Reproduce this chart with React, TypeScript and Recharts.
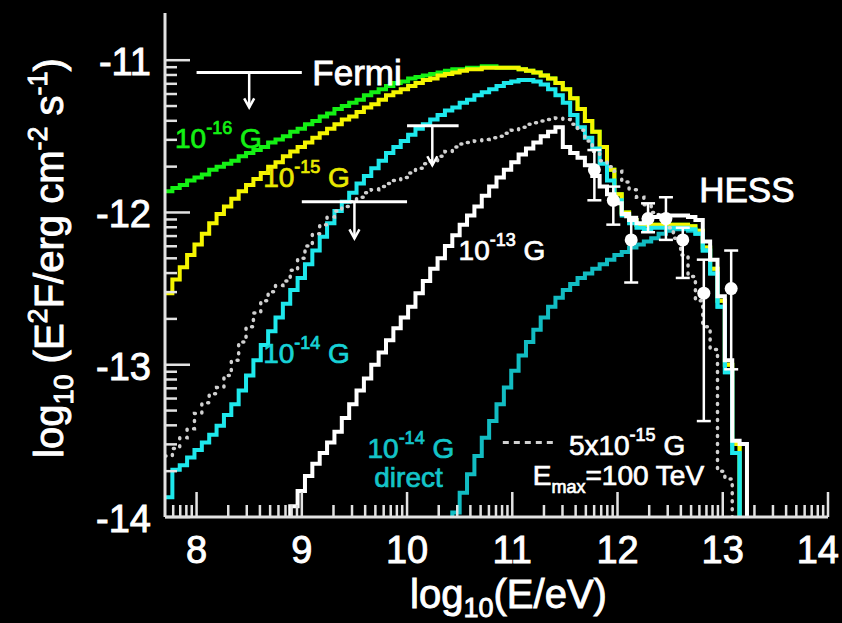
import React from 'react';
import { ComposedChart, Line, Scatter, XAxis, YAxis, ErrorBar, ReferenceLine } from 'recharts';

const FONT = '"Liberation Sans", Arial, Helvetica, sans-serif';
const FRAME = '#e2e2e2';
const C_GREEN = '#14f014';
const C_YELLOW = '#f5f500';
const C_CYAN = '#1ee8ec';
const C_DIRECT = '#12bcc2';
const C_WHITE = '#ffffff';
const C_DOT = '#d0d0d0';
const TEXT_STROKE = 0.9;

// log10(E/eV) bin edges of the histograms
const binEdges = [
  7.70, 7.77, 7.84, 7.91, 7.98, 8.05, 8.12, 8.19, 8.26, 8.33,
  8.40, 8.47, 8.54, 8.61, 8.68, 8.75, 8.82, 8.89, 8.96, 9.03,
  9.10, 9.17, 9.24, 9.31, 9.38, 9.45, 9.52, 9.59, 9.66, 9.73,
  9.80, 9.87, 9.94, 10.01, 10.08, 10.15, 10.22, 10.29, 10.36, 10.43,
  10.50, 10.57, 10.64, 10.71, 10.78, 10.85, 10.92, 10.99, 11.06, 11.13,
  11.20, 11.27, 11.34, 11.41, 11.48, 11.55, 11.62, 11.69, 11.76, 11.83,
  11.90, 11.97, 12.04, 12.11, 12.18, 12.25, 12.32, 12.39, 12.46, 12.53,
  12.60, 12.67, 12.74, 12.81, 12.88, 12.95, 13.02, 13.09, 13.16, 13.23,
  13.30,
];

// B = 1e-16 G
const field1e16: (number | null)[] = [
  -11.86, -11.84, -11.82, -11.79, -11.77, -11.75, -11.72, -11.70, -11.68, -11.66,
  -11.63, -11.61, -11.59, -11.57, -11.54, -11.52, -11.50, -11.47, -11.45, -11.42,
  -11.40, -11.37, -11.35, -11.32, -11.30, -11.28, -11.26, -11.23, -11.21, -11.19,
  -11.17, -11.15, -11.14, -11.12, -11.11, -11.10, -11.09, -11.08, -11.07, -11.06,
  -11.06, -11.05, -11.05, -11.04, -11.04, -11.05, -11.05, -11.05, -11.06, -11.07,
  -11.08, -11.10, -11.12, -11.15, -11.19, -11.25, -11.32, -11.40, -11.47, -11.57,
  -11.72, -11.88, -12.00, -12.05, -12.08, -12.08, -12.08, -12.08, -12.08, -12.08,
  -12.08, -12.09, -12.12, -12.23, -12.37, -12.58, -13.00, -13.52, -14.5, null,
  null,
];

// B = 1e-15 G
const field1e15: (number | null)[] = [
  -12.53, -12.44, -12.36, -12.28, -12.21, -12.14, -12.07, -12.01, -11.96, -11.91,
  -11.86, -11.82, -11.78, -11.74, -11.70, -11.67, -11.63, -11.60, -11.57, -11.54,
  -11.51, -11.48, -11.45, -11.42, -11.39, -11.37, -11.34, -11.31, -11.29, -11.26,
  -11.23, -11.21, -11.19, -11.17, -11.15, -11.13, -11.12, -11.10, -11.09, -11.08,
  -11.07, -11.06, -11.06, -11.05, -11.05, -11.05, -11.05, -11.05, -11.06, -11.07,
  -11.08, -11.10, -11.12, -11.15, -11.19, -11.25, -11.32, -11.40, -11.47, -11.57,
  -11.72, -11.88, -12.00, -12.05, -12.08, -12.08, -12.08, -12.08, -12.08, -12.08,
  -12.08, -12.09, -12.12, -12.23, -12.37, -12.58, -13.00, -13.52, -14.5, null,
  null,
];

// B = 1e-14 G (cascade)
const field1e14: (number | null)[] = [
  -13.87, -13.69, -13.66, -13.61, -13.56, -13.51, -13.46, -13.40, -13.33, -13.26,
  -13.17, -13.07, -12.97, -12.87, -12.78, -12.69, -12.60, -12.51, -12.43, -12.34,
  -12.25, -12.16, -12.07, -11.99, -11.93, -11.87, -11.81, -11.76, -11.71, -11.66,
  -11.61, -11.57, -11.53, -11.49, -11.45, -11.42, -11.39, -11.36, -11.33, -11.31,
  -11.28, -11.26, -11.23, -11.21, -11.19, -11.17, -11.15, -11.14, -11.13, -11.13,
  -11.14, -11.16, -11.19, -11.23, -11.28, -11.36, -11.44, -11.51, -11.58, -11.68,
  -11.79, -11.92, -12.02, -12.07, -12.10, -12.11, -12.10, -12.10, -12.10, -12.10,
  -12.10, -12.11, -12.14, -12.25, -12.40, -12.62, -13.05, -13.58, -14.5, null,
  null,
];

// B = 1e-14 G, direct component
const field1e14direct: (number | null)[] = [
  null, null, null, null, null, null, null, null, null, null,
  null, null, null, null, null, null, null, null, null, null,
  null, null, null, null, null, null, null, null, null, null,
  null, null, null, null, null, null, null, null, -14.5, -13.97,
  -13.84, -13.72, -13.60, -13.48, -13.37, -13.26, -13.15, -13.04, -12.94, -12.85,
  -12.77, -12.69, -12.62, -12.56, -12.51, -12.47, -12.43, -12.40, -12.37, -12.34,
  -12.31, -12.28, -12.26, -12.23, -12.21, -12.19, -12.17, -12.14, -12.12, -12.11,
  -12.11, -12.12, -12.14, -12.25, -12.40, -12.62, -13.05, -13.58, -14.5, null,
  null,
];

// B = 1e-13 G
const field1e13: (number | null)[] = [
  null, null, null, null, null, null, null, null, null, null,
  null, null, null, null, null, null, -14.5, -13.93, -13.83, -13.73,
  -13.65, -13.58, -13.51, -13.44, -13.35, -13.26, -13.17, -13.09, -13.00, -12.92,
  -12.84, -12.76, -12.69, -12.62, -12.53, -12.45, -12.37, -12.30, -12.22, -12.15,
  -12.08, -12.02, -11.96, -11.89, -11.83, -11.77, -11.72, -11.67, -11.62, -11.58,
  -11.54, -11.50, -11.47, -11.44, -11.57, -11.61, -11.64, -11.69, -11.76, -11.83,
  -11.88, -11.94, -12.01, -12.05, -12.07, -12.05, -12.03, -12.02, -12.02, -12.02,
  -12.02, -12.03, -12.05, -12.19, -12.31, -12.55, -12.97, -13.50, -13.52, -14.5,
  null,
];

// B = 5e-15 G, Emax = 100 TeV
const field5e15: (number | null)[] = [
  -13.60, -13.55, -13.48, -13.42, -13.32, -13.25, -13.19, -13.15, -13.07, -12.97,
  -12.85, -12.75, -12.66, -12.58, -12.52, -12.48, -12.45, -12.38, -12.30, -12.22,
  -12.14, -12.08, -12.03, -11.99, -11.96, -11.93, -11.90, -11.87, -11.85, -11.83,
  -11.81, -11.79, -11.77, -11.74, -11.71, -11.68, -11.66, -11.63, -11.60, -11.57,
  -11.55, -11.54, -11.53, -11.52, -11.51, -11.50, -11.48, -11.46, -11.44, -11.42,
  -11.41, -11.40, -11.39, -11.38, -11.39, -11.42, -11.46, -11.53, -11.60, -11.66,
  -11.70, -11.73, -11.80, -11.85, -11.90, -11.95, -12.00, -12.05, -12.10, -12.17,
  -12.28, -12.42, -12.58, -12.75, -12.90, -13.70, -13.75, -14.5, null, null,
  null,
];

// HESS points
const hessLogE = [11.78, 11.96, 12.13, 12.29, 12.46, 12.62, 12.82, 13.08];
const hessFlux = [-11.72, -11.92, -12.18, -12.04, -12.04, -12.18, -12.53, -12.50];
const hessLow = [-11.92, -12.08, -12.46, -12.13, -12.18, -12.43, -13.37, -13.03];
const hessHigh = [-11.59, -11.83, -12.03, -11.94, -11.90, -12.10, -12.31, -12.25];

// Fermi upper limits
const fermiFrom = [8.0, 9.0, 10.0];
const fermiTo = [9.0, 10.0, 10.49];
const fermiFlux = [-11.08, -11.93, -11.43];
const fermiArrowAt = [8.5, 9.5, 10.24];
const fermiArrowTip = [-11.31, -12.17, -11.69];

const X_DOMAIN: [number, number] = [7.7, 14];
const Y_DOMAIN: [number, number] = [-14, -10.69];
const xMajorTicks = [8, 9, 10, 11, 12, 13, 14];
const yMajorTicks = [-14, -13, -12, -11];
const xDecades = [7, 8, 9, 10, 11, 12, 13];
const yDecades = [-14, -13, -12, -11];
const MINOR_OFFSETS = [0.301, 0.477, 0.602, 0.699, 0.778, 0.845, 0.903, 0.954];

const xTicks = [
  ...xMajorTicks,
  ...xDecades.flatMap((d) => MINOR_OFFSETS.map((o) => d + o)).filter((v) => v > X_DOMAIN[0] && v < X_DOMAIN[1]),
].sort((a, b) => a - b);
const yTicks = [
  ...yMajorTicks,
  ...yDecades.flatMap((d) => MINOR_OFFSETS.map((o) => d + o)).filter((v) => v > Y_DOMAIN[0] && v < Y_DOMAIN[1] - 0.02),
].sort((a, b) => a - b);

const isMajor = (v: number) => Math.abs(v - Math.round(v)) < 1e-6;
const MAJOR_LEN = 25;
const MINOR_LEN = 12;
const TICK_W = 2.5;

const table = binEdges.map((x, i) => ({
  x,
  b16: field1e16[i],
  b15: field1e15[i],
  b14: field1e14[i],
  b14d: field1e14direct[i],
  b13: field1e13[i],
  b5: field5e15[i],
}));

const hessTable = hessLogE.map((x, i) => ({
  x,
  y: hessFlux[i],
  err: [hessFlux[i] - hessLow[i], hessHigh[i] - hessFlux[i]],
}));

const arrowTips = fermiArrowAt.map((x, i) => ({ x, y: fermiArrowTip[i] }));

const annotations = [
  { id: 'fermi', x: 9.1, y: -11.164 },
  { id: 'b16', x: 7.795, y: -11.577 },
  { id: 'b15', x: 8.633, y: -11.833 },
  { id: 'b14', x: 8.633, y: -12.987 },
  { id: 'b13', x: 10.49, y: -12.311 },
  { id: 'b14d', x: 9.624, y: -13.61 },
  { id: 'direct', x: 10.014, y: -13.8 },
  { id: 'hess', x: 12.776, y: -11.931 },
  { id: 'b5', x: 11.538, y: -13.59 },
  { id: 'emax', x: 11.195, y: -13.787 },
];

const PowLabel = ({ x, y, exp, color, pre = '10', size = 28, sup = 18 }: any) => (
  <text
    x={x}
    y={y}
    fill={color}
    stroke={color}
    strokeWidth={TEXT_STROKE * 0.8}
    fontSize={size}
    fontFamily={FONT}
    style={{ whiteSpace: 'pre' }}
  >
    <tspan>{pre}</tspan>
    <tspan fontSize={sup} dy={-14}>{exp}</tspan>
    <tspan dy={14}>{' G'}</tspan>
  </text>
);

const renderAnnotation = (props: any) => {
  const { cx, cy, payload } = props;
  switch (payload.id) {
    case 'fermi':
      return <text x={cx} y={cy} fill="#fff" stroke="#fff" strokeWidth={TEXT_STROKE} fontSize={35} fontFamily={FONT}>Fermi</text>;
    case 'hess':
      return <text x={cx} y={cy} fill="#fff" stroke="#fff" strokeWidth={TEXT_STROKE} fontSize={35} fontFamily={FONT}>HESS</text>;
    case 'b16':
      return <PowLabel x={cx} y={cy} exp="-16" color={C_GREEN} />;
    case 'b15':
      return <PowLabel x={cx} y={cy} exp="-15" color="#e8e800" />;
    case 'b14':
      return <PowLabel x={cx} y={cy} exp="-14" color="#18d2d6" />;
    case 'b13':
      return <PowLabel x={cx} y={cy} exp="-13" color="#fff" />;
    case 'b14d':
      return <PowLabel x={cx} y={cy} exp="-14" color="#14c4c8" />;
    case 'direct':
      return (
        <text x={cx} y={cy} fill="#14c4c8" stroke="#14c4c8" strokeWidth={TEXT_STROKE * 0.8} fontSize={28} fontFamily={FONT} textAnchor="middle">
          direct
        </text>
      );
    case 'b5':
      return <PowLabel x={cx} y={cy} exp="-15" pre="5x10" color="#fff" />;
    case 'emax':
      return (
        <text x={cx} y={cy} fill="#fff" stroke="#fff" strokeWidth={TEXT_STROKE * 0.8} fontSize={28} fontFamily={FONT}>
          <tspan>E</tspan>
          <tspan fontSize={18} dy={8}>max</tspan>
          <tspan dy={-8}>=100 TeV</tspan>
        </text>
      );
    default:
      return <g />;
  }
};

const BottomTick = (props: any) => {
  const { x, y, payload } = props;
  const major = isMajor(payload.value);
  const last = Math.abs(payload.value - X_DOMAIN[1]) < 1e-6;
  return (
    <g>
      <line x1={x} x2={x} y1={y} y2={y - (major ? MAJOR_LEN : MINOR_LEN)} stroke={FRAME} strokeWidth={TICK_W} />
      {major && (
        <text
          x={last ? x + 11 : x}
          y={y + 46}
          textAnchor={last ? 'end' : 'middle'}
          fill="#fff"
          stroke="#fff"
          strokeWidth={TEXT_STROKE}
          fontSize={38}
          fontFamily={FONT}
        >
          {Math.round(payload.value)}
        </text>
      )}
    </g>
  );
};

const TopTick = (props: any) => {
  const { x, y, payload } = props;
  const major = isMajor(payload.value);
  return <line x1={x} x2={x} y1={y} y2={y + (major ? MAJOR_LEN : MINOR_LEN)} stroke={FRAME} strokeWidth={TICK_W} />;
};

const LeftTick = (props: any) => {
  const { x, y, payload } = props;
  const major = isMajor(payload.value);
  return (
    <g>
      <line x1={x} x2={x + (major ? MAJOR_LEN : MINOR_LEN)} y1={y} y2={y} stroke={FRAME} strokeWidth={TICK_W} />
      {major && (
        <text x={x - 14} y={y + 15} textAnchor="end" fill="#fff" stroke="#fff" strokeWidth={TEXT_STROKE} fontSize={38} fontFamily={FONT}>
          {Math.round(payload.value)}
        </text>
      )}
    </g>
  );
};

const RightTick = (props: any) => {
  const { x, y, payload } = props;
  const major = isMajor(payload.value);
  return <line x1={x} x2={x - (major ? MAJOR_LEN : MINOR_LEN)} y1={y} y2={y} stroke={FRAME} strokeWidth={TICK_W} />;
};

const XTitle = (props: any) => {
  const vb = props.viewBox;
  const cx = vb.x + vb.width / 2 + 12;
  const by = vb.y + 91;
  return (
    <text x={cx} y={by} textAnchor="middle" fill="#fff" stroke="#fff" strokeWidth={TEXT_STROKE} fontSize={40} fontFamily={FONT}>
      <tspan>log</tspan>
      <tspan fontSize={27} dy={9}>10</tspan>
      <tspan dy={-9}>(E/eV)</tspan>
    </text>
  );
};

const YTitle = (props: any) => {
  const vb = props.viewBox;
  const cy = vb.y + vb.height / 2 - 7;
  const bx = 63;
  return (
    <text
      x={bx}
      y={cy}
      transform={`rotate(-90 ${bx} ${cy})`}
      textAnchor="middle"
      fill="#fff"
      stroke="#fff"
      strokeWidth={TEXT_STROKE}
      fontSize={40}
      fontFamily={FONT}
      style={{ whiteSpace: 'pre' }}
    >
      <tspan>log</tspan>
      <tspan fontSize={27} dy={10}>10</tspan>
      <tspan dy={-10}>{' (E'}</tspan>
      <tspan fontSize={27} dy={-16}>2</tspan>
      <tspan dy={16}>{'F/erg cm'}</tspan>
      <tspan fontSize={27} dy={-16}>-2</tspan>
      <tspan dy={16}>{' s'}</tspan>
      <tspan fontSize={27} dy={-16}>-1</tspan>
      <tspan dy={16}>)</tspan>
    </text>
  );
};

const circleShape = (p: any) => <circle cx={p.cx} cy={p.cy} r={6.5} fill="#fff" />;
const arrowShape = (p: any) => (
  <path
    d={`M${p.cx - 5},${p.cy - 9} L${p.cx},${p.cy} L${p.cx + 5},${p.cy - 9}`}
    stroke="#fff"
    strokeWidth={2.5}
    fill="none"
  />
);

const axisLine = { stroke: FRAME, strokeWidth: 3 };

export default function App() {
  return (
    <div style={{ position: 'absolute', left: 0, top: 0, width: 842, height: 623, background: '#000', overflow: 'hidden' }}>
      <ComposedChart width={842} height={623} data={table} margin={{ top: 13, right: 14, bottom: 0, left: 0 }}>
        <XAxis
          type="number"
          dataKey="x"
          domain={X_DOMAIN}
          allowDataOverflow
          ticks={xTicks}
          interval={0}
          height={106}
          tickSize={0}
          tickMargin={0}
          tickLine={false}
          axisLine={axisLine}
          tick={<BottomTick />}
          label={XTitle}
        />
        <XAxis
          xAxisId="top"
          orientation="top"
          type="number"
          dataKey="x"
          domain={X_DOMAIN}
          allowDataOverflow
          ticks={xTicks}
          interval={0}
          height={0}
          tickSize={0}
          tickMargin={0}
          tickLine={false}
          axisLine={axisLine}
          tick={<TopTick />}
        />
        <YAxis
          type="number"
          domain={Y_DOMAIN}
          allowDataOverflow
          ticks={yTicks}
          interval={0}
          width={165}
          tickSize={0}
          tickMargin={0}
          tickLine={false}
          axisLine={axisLine}
          tick={<LeftTick />}
          label={YTitle}
        />
        <YAxis
          yAxisId="right"
          orientation="right"
          type="number"
          domain={Y_DOMAIN}
          allowDataOverflow
          ticks={yTicks}
          interval={0}
          width={0}
          tickSize={0}
          tickMargin={0}
          tickLine={false}
          axisLine={axisLine}
          tick={<RightTick />}
        />

        <Line type="stepAfter" dataKey="b16" stroke={C_GREEN} strokeWidth={4} dot={false} activeDot={false} isAnimationActive={false} />
        <Line type="stepAfter" dataKey="b15" stroke={C_YELLOW} strokeWidth={4} dot={false} activeDot={false} isAnimationActive={false} />
        <Line type="stepAfter" dataKey="b14d" stroke={C_DIRECT} strokeWidth={4} dot={false} activeDot={false} isAnimationActive={false} />
        <Line type="stepAfter" dataKey="b14" stroke={C_CYAN} strokeWidth={4} dot={false} activeDot={false} isAnimationActive={false} />
        <Line
          type="stepAfter"
          dataKey="b5"
          stroke={C_DOT}
          strokeWidth={3.5}
          strokeDasharray="1 7"
          strokeLinecap="round"
          dot={false}
          activeDot={false}
          isAnimationActive={false}
        />
        <Line type="stepAfter" dataKey="b13" stroke={C_WHITE} strokeWidth={4} dot={false} activeDot={false} isAnimationActive={false} />

        {fermiFrom.map((x1, i) => (
          <ReferenceLine
            key={`fb${i}`}
            segment={[{ x: x1, y: fermiFlux[i] }, { x: fermiTo[i], y: fermiFlux[i] }]}
            stroke="#fff"
            strokeWidth={3}
          />
        ))}
        {fermiArrowAt.map((x, i) => (
          <ReferenceLine
            key={`fa${i}`}
            segment={[{ x, y: fermiFlux[i] }, { x, y: fermiArrowTip[i] }]}
            stroke="#fff"
            strokeWidth={2.5}
          />
        ))}
        <ReferenceLine
          segment={[{ x: 10.91, y: -13.51 }, { x: 11.43, y: -13.51 }]}
          stroke={C_DOT}
          strokeWidth={3}
          strokeDasharray="6 5"
        />

        <Scatter data={arrowTips} dataKey="y" shape={arrowShape} isAnimationActive={false} />
        <Scatter data={hessTable} dataKey="y" shape={circleShape} isAnimationActive={false}>
          <ErrorBar dataKey="err" direction="y" width={7} stroke="#fff" strokeWidth={2.5} isAnimationActive={false} />
        </Scatter>
        <Scatter data={annotations} dataKey="y" shape={renderAnnotation} isAnimationActive={false} />
      </ComposedChart>
    </div>
  );
}
